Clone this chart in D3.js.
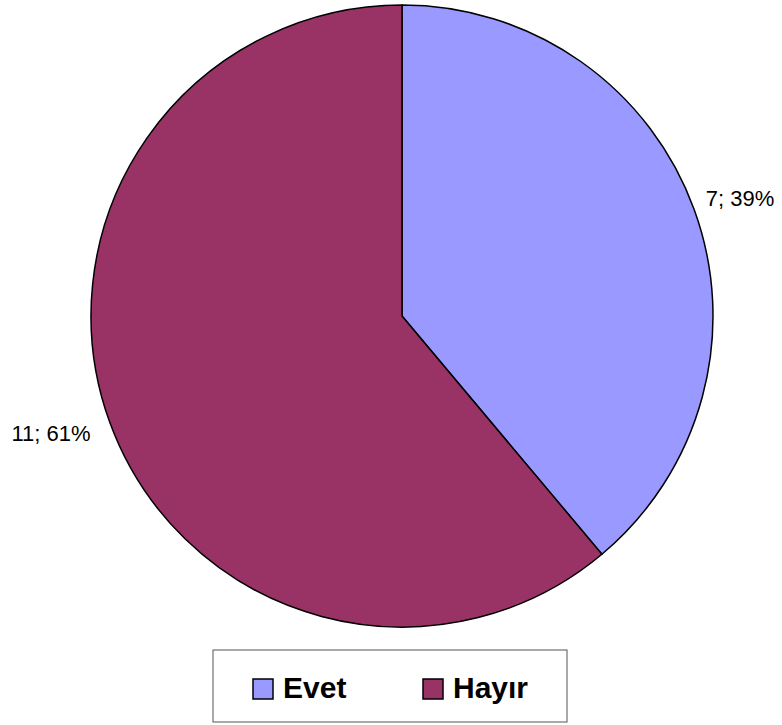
<!DOCTYPE html>
<html><head><meta charset="utf-8">
<script src="https://cdn.jsdelivr.net/npm/d3@7"></script>
<style>body{margin:0;background:#fff}svg{display:block}</style>
</head><body>
<script>
const categories = ["Evet", "Hayır"];
const values = [7, 11];
const percentLabels = ["39%", "61%"];
const colors = ["#9999FF", "#993366"];

const W = 782, H = 725;
const cx = 402, cy = 316, r = 311;
const svg = d3.select("body").append("svg").attr("width", W).attr("height", H);

const pie = d3.pie().sort(null).value(d => d.v);
const data = categories.map((c, i) => ({c, v: values[i], p: percentLabels[i], col: colors[i]}));
const arcs = pie(data);
const arc = d3.arc().innerRadius(0).outerRadius(r);

const g = svg.append("g").attr("transform", `translate(${cx},${cy})`);
g.selectAll("path").data(arcs).join("path")
  .attr("d", arc).attr("fill", d => d.data.col)
  .attr("stroke", "#000").attr("stroke-width", 1.5).attr("stroke-linejoin", "round");

const labelPos = [{x: 740, y: 206}, {x: 51, y: 441}];
arcs.forEach((a, i) => {
  svg.append("text")
    .attr("x", labelPos[i].x).attr("y", labelPos[i].y)
    .attr("text-anchor", "middle")
    .attr("font-family", "Liberation Sans, Arial, sans-serif")
    .attr("font-size", 22).attr("fill", "#000")
    .text(`${a.data.v}; ${a.data.p}`);
});

const lg = svg.append("g");
lg.append("rect").attr("x", 213).attr("y", 650).attr("width", 354).attr("height", 72)
  .attr("fill", "#fff").attr("stroke", "#555").attr("stroke-width", 1);
const legX = [253, 423];
data.forEach((d, i) => {
  lg.append("rect").attr("x", legX[i]).attr("y", 679).attr("width", 20).attr("height", 20)
    .attr("fill", d.col).attr("stroke", "#000").attr("stroke-width", 1.5);
  lg.append("text").attr("x", legX[i] + 30).attr("y", 698)
    .attr("font-family", "Liberation Sans, Arial, sans-serif")
    .attr("font-weight", "bold").attr("font-size", 30).attr("fill", "#000")
    .text(d.c);
});
</script>
</body></html>
